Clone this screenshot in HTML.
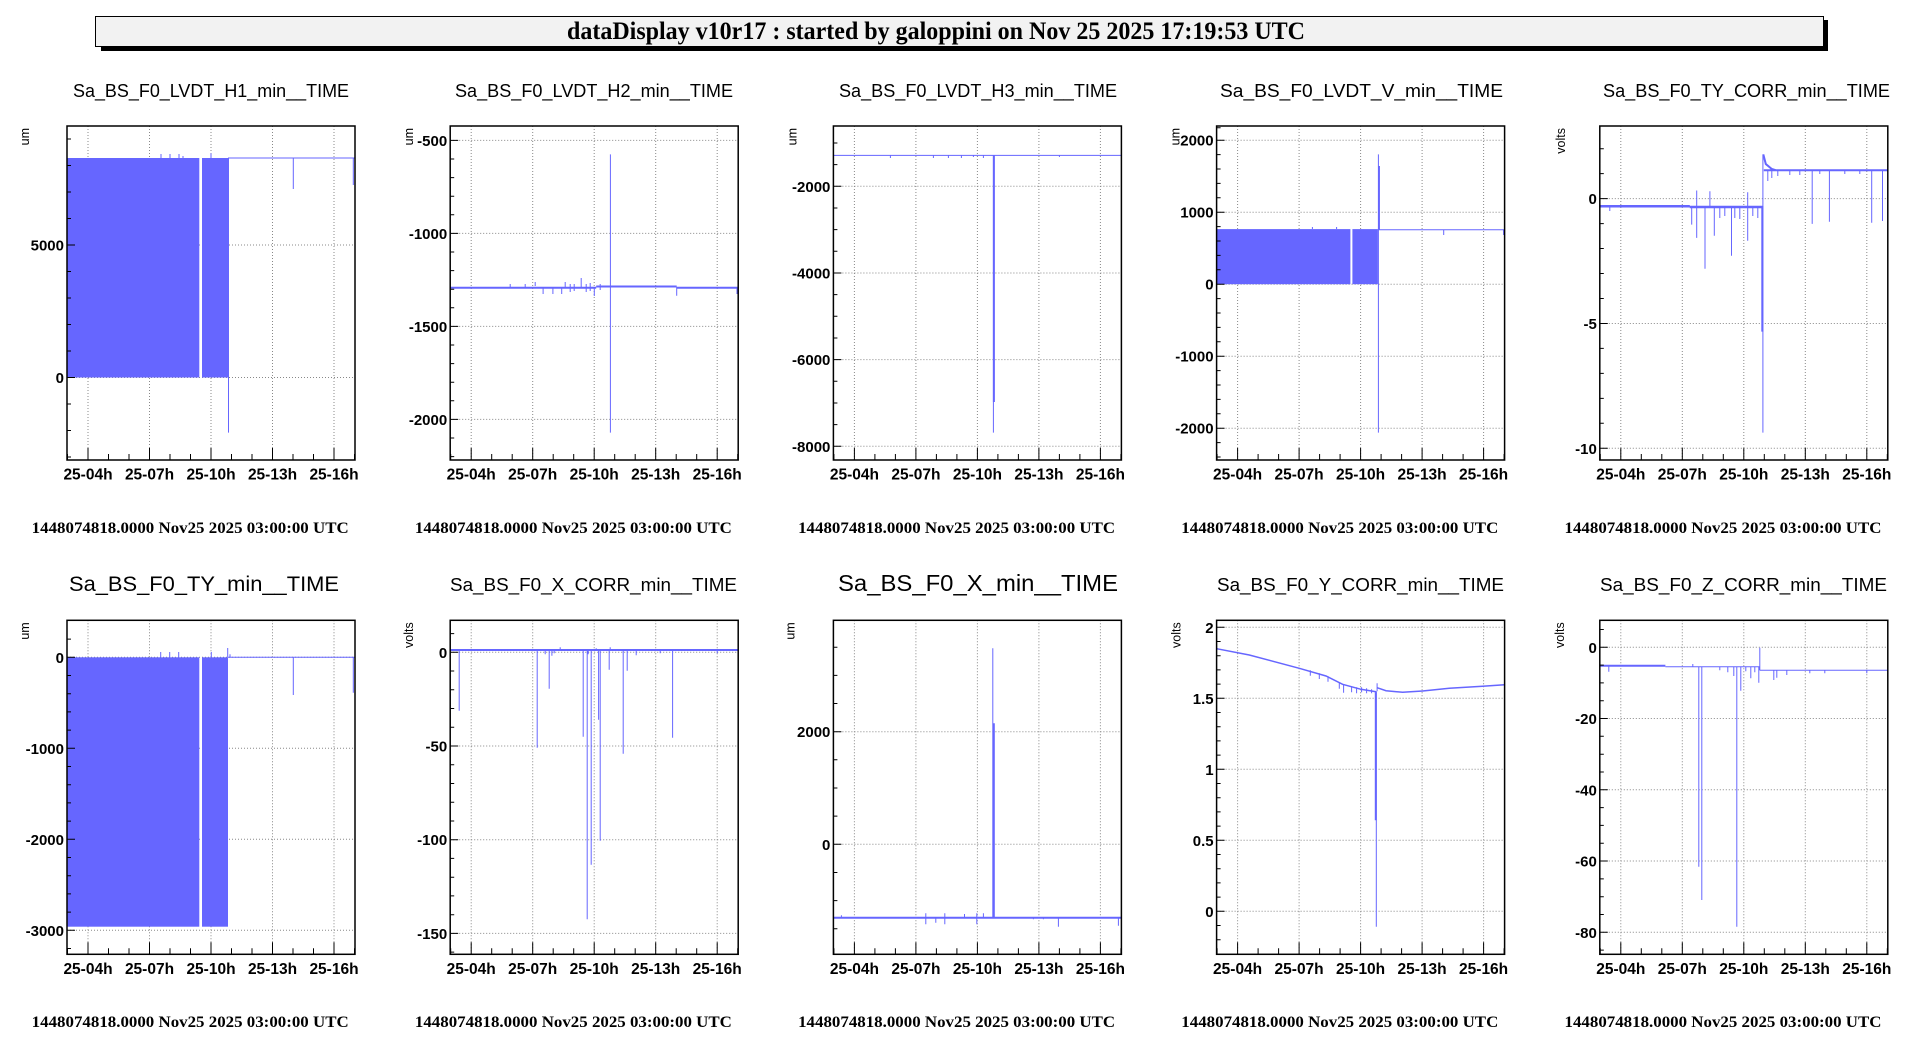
<!DOCTYPE html>
<html><head><meta charset="utf-8"><style>
html,body{margin:0;padding:0;background:#fff;}
svg{display:block;}
.t{font-family:"Liberation Sans",sans-serif;font-size:18px;fill:#000;}
.yl{font-family:"Liberation Sans",sans-serif;font-size:15px;font-weight:bold;text-anchor:end;}
.xl{font-family:"Liberation Sans",sans-serif;font-size:15.5px;font-weight:bold;text-anchor:middle;}
.ft{font-family:"Liberation Serif",serif;font-size:16px;font-weight:bold;}
.u{font-family:"Liberation Sans",sans-serif;font-size:12.5px;text-anchor:end;}
.g{stroke:#888;stroke-width:1;stroke-dasharray:1 2;fill:none;}
.tk{stroke:#000;stroke-width:1;fill:none;}
.d{stroke:#6666ff;stroke-width:1;fill:none;}
.f{fill:#6666ff;}
.fr{fill:none;stroke:#000;stroke-width:1.5;}
</style></head><body>
<svg width="1916" height="1052" viewBox="0 0 1916 1052" xmlns="http://www.w3.org/2000/svg">
<defs>
<g id="xa">
<path class="g" d="M21 0V334M82.5 0V334M144 0V334M205.5 0V334M267 0V334"/>
<path class="tk" d="M0.5 334v-6M21 334v-12M41.5 334v-6M62 334v-6M82.5 334v-12M103 334v-6M123.5 334v-6M144 334v-12M164.5 334v-6M185 334v-6M205.5 334v-12M226 334v-6M246.5 334v-6M267 334v-12M287.5 334v-6"/>
</g>
</defs>

<!-- header -->
<rect x="101" y="20" width="1727" height="31" fill="#000"/>
<rect x="95.5" y="16.5" width="1728" height="30" fill="#f2f2f2" stroke="#000" stroke-width="1"/>
<text x="567" y="39" font-family="Liberation Serif, serif" font-size="25" font-weight="bold" textLength="738" lengthAdjust="spacingAndGlyphs">dataDisplay v10r17 : started by galoppini on Nov 25 2025 17:19:53 UTC</text>

<!-- titles -->
<text class="t" x="73" y="97" textLength="276" lengthAdjust="spacingAndGlyphs">Sa_BS_F0_LVDT_H1_min__TIME</text>
<text class="t" x="455" y="97" textLength="278" lengthAdjust="spacingAndGlyphs">Sa_BS_F0_LVDT_H2_min__TIME</text>
<text class="t" x="839" y="97" textLength="278" lengthAdjust="spacingAndGlyphs">Sa_BS_F0_LVDT_H3_min__TIME</text>
<text class="t" x="1220" y="97" textLength="283" lengthAdjust="spacingAndGlyphs">Sa_BS_F0_LVDT_V_min__TIME</text>
<text class="t" x="1603" y="97" textLength="287" lengthAdjust="spacingAndGlyphs">Sa_BS_F0_TY_CORR_min__TIME</text>
<text class="t" x="69" y="591" style="font-size:21.5px" textLength="270" lengthAdjust="spacingAndGlyphs">Sa_BS_F0_TY_min__TIME</text>
<text class="t" x="450" y="591" textLength="287" lengthAdjust="spacingAndGlyphs">Sa_BS_F0_X_CORR_min__TIME</text>
<text class="t" x="838" y="591" style="font-size:23px" textLength="280" lengthAdjust="spacingAndGlyphs">Sa_BS_F0_X_min__TIME</text>
<text class="t" x="1217" y="591" textLength="287" lengthAdjust="spacingAndGlyphs">Sa_BS_F0_Y_CORR_min__TIME</text>
<text class="t" x="1600" y="591" textLength="287" lengthAdjust="spacingAndGlyphs">Sa_BS_F0_Z_CORR_min__TIME</text>

<!-- footers -->
<text class="ft" x="31.7" y="533" textLength="317" lengthAdjust="spacingAndGlyphs">1448074818.0000 Nov25 2025 03:00:00 UTC</text>
<text class="ft" x="414.9" y="533" textLength="317" lengthAdjust="spacingAndGlyphs">1448074818.0000 Nov25 2025 03:00:00 UTC</text>
<text class="ft" x="798.1" y="533" textLength="317" lengthAdjust="spacingAndGlyphs">1448074818.0000 Nov25 2025 03:00:00 UTC</text>
<text class="ft" x="1181.3" y="533" textLength="317" lengthAdjust="spacingAndGlyphs">1448074818.0000 Nov25 2025 03:00:00 UTC</text>
<text class="ft" x="1564.5" y="533" textLength="317" lengthAdjust="spacingAndGlyphs">1448074818.0000 Nov25 2025 03:00:00 UTC</text>
<text class="ft" x="31.7" y="1027" textLength="317" lengthAdjust="spacingAndGlyphs">1448074818.0000 Nov25 2025 03:00:00 UTC</text>
<text class="ft" x="414.9" y="1027" textLength="317" lengthAdjust="spacingAndGlyphs">1448074818.0000 Nov25 2025 03:00:00 UTC</text>
<text class="ft" x="798.1" y="1027" textLength="317" lengthAdjust="spacingAndGlyphs">1448074818.0000 Nov25 2025 03:00:00 UTC</text>
<text class="ft" x="1181.3" y="1027" textLength="317" lengthAdjust="spacingAndGlyphs">1448074818.0000 Nov25 2025 03:00:00 UTC</text>
<text class="ft" x="1564.5" y="1027" textLength="317" lengthAdjust="spacingAndGlyphs">1448074818.0000 Nov25 2025 03:00:00 UTC</text>

<!-- Panel 1 -->
<g transform="translate(67,126)">
<use href="#xa"/>
<path class="g" d="M0 251.5H288M0 119H288"/>
<rect class="f" x="0" y="32" width="132.3" height="219.5"/>
<rect class="f" x="135" y="32" width="26" height="219.5"/>
<path class="d" d="M161 32H288M161.5 32V306.6M226.3 32V63M286.3 32V59M94 32V28M103 32V28M112 32V28M116 32V30M144 32V27.3"/>
<path class="tk" d="M0 331h4M0 304.5h4M0 278h4M0 251.5h8M0 225h4M0 198.5h4M0 172h4M0 145.5h4M0 119h8M0 92.5h4M0 66h4M0 39.5h4M0 13h4"/>
<rect class="fr" x="0" y="0" width="288" height="334"/>
<text class="yl" x="-3" y="257">0</text><text class="yl" x="-3" y="124.5">5000</text>
<text class="xl" x="21" y="353.5">25-04h</text><text class="xl" x="82.5" y="353.5">25-07h</text><text class="xl" x="144" y="353.5">25-10h</text><text class="xl" x="205.5" y="353.5">25-13h</text><text class="xl" x="267" y="353.5">25-16h</text>
<text class="u" transform="translate(-38,2) rotate(-90)">um</text>
</g>

<!-- Panel 2 -->
<g transform="translate(450.2,126)">
<use href="#xa"/>
<path class="g" d="M0 14.4H288M0 107.4H288M0 200.4H288M0 293.4H288"/>
<path class="d" style="stroke-width:2" d="M0 161.7H146M146 160.5H226.5M226.5 161.7H288"/>
<path class="d" d="M160.2 28.4V306.6M131 161V152M226.5 161V169.8M286.8 161V168M92.9 161V168M102.7 161V168M111.5 161V168M144.1 161V170M115 161V156M120 158V166M124 158V165M136 158V166M140 157V165M150 158V164M60 161V158M75 161V158M85 160V156"/>
<path class="tk" d="M0 14.4h8M0 33h4M0 51.6h4M0 70.2h4M0 88.8h4M0 107.4h8M0 126h4M0 144.6h4M0 163.2h4M0 181.8h4M0 200.4h8M0 219h4M0 237.6h4M0 256.2h4M0 274.8h4M0 293.4h8M0 312h4M0 330.6h4"/>
<rect class="fr" x="0" y="0" width="288" height="334"/>
<text class="yl" x="-3" y="20">-500</text><text class="yl" x="-3" y="113">-1000</text><text class="yl" x="-3" y="206">-1500</text><text class="yl" x="-3" y="299">-2000</text>
<text class="xl" x="21" y="353.5">25-04h</text><text class="xl" x="82.5" y="353.5">25-07h</text><text class="xl" x="144" y="353.5">25-10h</text><text class="xl" x="205.5" y="353.5">25-13h</text><text class="xl" x="267" y="353.5">25-16h</text>
<text class="u" transform="translate(-37,2) rotate(-90)">um</text>
</g>

<!-- Panel 3 -->
<g transform="translate(833.4,126)">
<use href="#xa"/>
<path class="g" d="M0 60.3H288M0 147H288M0 233.6H288M0 320.3H288"/>
<path class="d" d="M0 29.4H288M160 29V306.6M57 29V32M100 29V32M115 29V32M128 29V32M140 29V31M150 29V32M226 29V31"/>
<path class="d" style="stroke-width:2" d="M160.5 29V276"/>
<path class="tk" d="M0 17h4M0 38.6h4M0 60.3h8M0 82h4M0 103.6h4M0 125.3h4M0 147h8M0 168.6h4M0 190.3h4M0 212h4M0 233.6h8M0 255.3h4M0 277h4M0 298.6h4M0 320.3h8"/>
<rect class="fr" x="0" y="0" width="288" height="334"/>
<text class="yl" x="-3" y="66">-2000</text><text class="yl" x="-3" y="152.5">-4000</text><text class="yl" x="-3" y="239">-6000</text><text class="yl" x="-3" y="326">-8000</text>
<text class="xl" x="21" y="353.5">25-04h</text><text class="xl" x="82.5" y="353.5">25-07h</text><text class="xl" x="144" y="353.5">25-10h</text><text class="xl" x="205.5" y="353.5">25-13h</text><text class="xl" x="267" y="353.5">25-16h</text>
<text class="u" transform="translate(-37,2) rotate(-90)">um</text>
</g>

<!-- Panel 4 -->
<g transform="translate(1216.6,126)">
<use href="#xa"/>
<path class="g" d="M0 14.2H288M0 86.2H288M0 158.2H288M0 230.2H288M0 302.2H288"/>
<rect class="f" x="0" y="103.1" width="133.8" height="55.1"/>
<rect class="f" x="135.8" y="103.1" width="25.5" height="55.1"/>
<path class="d" d="M161.3 103.8H288M161.8 28.4V306.6M227.1 104V109M287 104V109M95.8 103V101M120 103V101"/>
<path class="d" style="stroke-width:1.5" d="M162.6 40V104"/>
<path class="tk" d="M0 1.8h4M0 14.2h8M0 28.6h4M0 43h4M0 57.4h4M0 71.8h4M0 86.2h8M0 100.6h4M0 115h4M0 129.4h4M0 143.8h4M0 158.2h8M0 172.6h4M0 187h4M0 201.4h4M0 215.8h4M0 230.2h8M0 244.6h4M0 259h4M0 273.4h4M0 287.8h4M0 302.2h8M0 316.6h4M0 331h4"/>
<rect class="fr" x="0" y="0" width="288" height="334"/>
<text class="yl" x="-3" y="19.7">2000</text><text class="yl" x="-3" y="91.7">1000</text><text class="yl" x="-3" y="163.7">0</text><text class="yl" x="-3" y="235.7">-1000</text><text class="yl" x="-3" y="307.7">-2000</text>
<text class="xl" x="21" y="353.5">25-04h</text><text class="xl" x="82.5" y="353.5">25-07h</text><text class="xl" x="144" y="353.5">25-10h</text><text class="xl" x="205.5" y="353.5">25-13h</text><text class="xl" x="267" y="353.5">25-16h</text>
<text class="u" transform="translate(-37,2) rotate(-90)">um</text>
</g>

<!-- Panel 5 -->
<g transform="translate(1599.8,126)">
<use href="#xa"/>
<path class="g" d="M0 72.6H288M0 197.5H288M0 322.3H288"/>
<path class="d" style="stroke-width:2.5" d="M0 80.3H90M90 81H163"/>
<path class="d" style="stroke-width:2" d="M164 44.2H288M163.5 28.4L166 38L172 43L176 44.2"/>
<path class="d" d="M91.9 80V98.6M96.9 80V111.9M96.9 80V64.5M105.2 80V142.8M110.1 80V65.2M114.5 80V109.8M131.7 80V129.8M147.9 80V114.7M147.9 80V66.3M163.1 28.4V306.6M212.4 44V97.9M229.6 44V95.8M271.9 44V96.8M282.7 44V95M10 80V85M120 81V92M125 81V90M135 81V92M140 81V93M153 81V90M158 81V92M168 44V55M172 44V52M178 44V50M190 44V49M200 44V49M220 44V48M245 44V48M260 44V48"/>
<path class="d" style="stroke-width:2" d="M162.5 80V205.6"/>
<path class="tk" d="M0 22.7h4M0 47.6h4M0 72.6h8M0 97.6h4M0 122.5h4M0 147.5h4M0 172.5h4M0 197.5h8M0 222.4h4M0 247.4h4M0 272.4h4M0 297.3h4M0 322.3h8"/>
<rect class="fr" x="0" y="0" width="288" height="334"/>
<text class="yl" x="-3" y="78">0</text><text class="yl" x="-3" y="203">-5</text><text class="yl" x="-3" y="328">-10</text>
<text class="xl" x="21" y="353.5">25-04h</text><text class="xl" x="82.5" y="353.5">25-07h</text><text class="xl" x="144" y="353.5">25-10h</text><text class="xl" x="205.5" y="353.5">25-13h</text><text class="xl" x="267" y="353.5">25-16h</text>
<text class="u" transform="translate(-35,2) rotate(-90)">volts</text>
</g>

<!-- Panel 6 -->
<g transform="translate(67,620.3)">
<use href="#xa"/>
<path class="g" d="M0 37H288M0 128H288M0 219H288M0 310H288"/>
<rect class="f" x="0" y="37" width="132.3" height="269.4"/>
<rect class="f" x="135" y="37" width="26" height="269.4"/>
<path class="d" d="M161 37H288M93.7 37V31.7M102.7 37V31.7M111.7 37V31.7M144.3 37V31.7M160.7 37V27.7M226.3 37V74.7M286.3 37V72.4M163 37V34"/>
<path class="tk" d="M0 18.8h4M0 37h8M0 55.2h4M0 73.4h4M0 91.6h4M0 109.8h4M0 128h8M0 146.2h4M0 164.4h4M0 182.6h4M0 200.8h4M0 219h8M0 237.2h4M0 255.4h4M0 273.6h4M0 291.8h4M0 310h8M0 328.2h4"/>
<rect class="fr" x="0" y="0" width="288" height="334"/>
<text class="yl" x="-3" y="42.5">0</text><text class="yl" x="-3" y="133.5">-1000</text><text class="yl" x="-3" y="224.5">-2000</text><text class="yl" x="-3" y="315.5">-3000</text>
<text class="xl" x="21" y="353.5">25-04h</text><text class="xl" x="82.5" y="353.5">25-07h</text><text class="xl" x="144" y="353.5">25-10h</text><text class="xl" x="205.5" y="353.5">25-13h</text><text class="xl" x="267" y="353.5">25-16h</text>
<text class="u" transform="translate(-38,2) rotate(-90)">um</text>
</g>

<!-- Panel 7 -->
<g transform="translate(450.2,620.3)">
<use href="#xa"/>
<path class="g" d="M0 32H288M0 125.7H288M0 219.4H288M0 313.1H288"/>
<path class="d" style="stroke-width:2" d="M0 29.7H288"/>
<path class="d" d="M9 30V90.4M87 30V127.4M99 30V68.4M133 30V116.4M137 30V299M141 30V244.4M148.4 30V99.4M150 30V220.4M159 30V49.4M173 30V133.4M177 30V50.4M222.4 30V117.4M101.7 30V35.4M186 30V35M95 30V34M104 30V33M110 30V27M138 30V34M146 30V28M160 30V27M210 30V33M267 30V33"/>
<path class="tk" d="M0 13.3h4M0 32h8M0 50.7h4M0 69.5h4M0 88.2h4M0 107h4M0 125.7h8M0 144.4h4M0 163.2h4M0 181.9h4M0 200.7h4M0 219.4h8M0 238.1h4M0 256.9h4M0 275.6h4M0 294.4h4M0 313.1h8M0 331.8h4"/>
<rect class="fr" x="0" y="0" width="288" height="334"/>
<text class="yl" x="-3" y="37.5">0</text><text class="yl" x="-3" y="131.2">-50</text><text class="yl" x="-3" y="224.9">-100</text><text class="yl" x="-3" y="318.6">-150</text>
<text class="xl" x="21" y="353.5">25-04h</text><text class="xl" x="82.5" y="353.5">25-07h</text><text class="xl" x="144" y="353.5">25-10h</text><text class="xl" x="205.5" y="353.5">25-13h</text><text class="xl" x="267" y="353.5">25-16h</text>
<text class="u" transform="translate(-37,2) rotate(-90)">volts</text>
</g>

<!-- Panel 8 -->
<g transform="translate(833.4,620.3)">
<use href="#xa"/>
<path class="g" d="M0 111.4H288M0 224H288"/>
<path class="d" style="stroke-width:2" d="M0 297.4H288M160.4 297V103"/>
<path class="d" d="M159.4 297V28M92.4 293V304M102.4 297V302.4M111.4 293V304M131.1 297V293.7M143.4 293V304M225 297V306.4M285 297V305.4M8 297V295M150 297V293M200 297V299M210 297V299"/>
<path class="tk" d="M0 26.9h4M0 55.1h4M0 83.2h4M0 111.4h8M0 139.5h4M0 167.7h4M0 195.8h4M0 224h8M0 252.2h4M0 280.3h4M0 308.5h4"/>
<rect class="fr" x="0" y="0" width="288" height="334"/>
<text class="yl" x="-3" y="116.9">2000</text><text class="yl" x="-3" y="229.5">0</text>
<text class="xl" x="21" y="353.5">25-04h</text><text class="xl" x="82.5" y="353.5">25-07h</text><text class="xl" x="144" y="353.5">25-10h</text><text class="xl" x="205.5" y="353.5">25-13h</text><text class="xl" x="267" y="353.5">25-16h</text>
<text class="u" transform="translate(-39,2) rotate(-90)">um</text>
</g>

<!-- Panel 9 -->
<g transform="translate(1216.6,620.3)">
<use href="#xa"/>
<path class="g" d="M0 7H288M0 78H288M0 149H288M0 220H288M0 291H288"/>
<path class="d" style="stroke-width:1.5" d="M0 28.4L32.7 34.7L82.7 48L109.4 55.7L126 64L144.4 69L159.4 71.4M160.5 67.4L169.4 70.4L186 72L206 70.7L232.7 68L266 66L288 64.4"/>
<path class="d" d="M159.7 71V306.4M160.5 71V63M93.7 50V55.4M102.7 53V58.7M111.4 56V61.4M122.7 62V68.4M127 64V72.4M135 66V72M140 67V73M145 67V72M150 68V73M155 69V73"/>
<path class="d" style="stroke-width:2" d="M159.2 72V200"/>
<path class="tk" d="M0 7h8M0 21.2h4M0 35.4h4M0 49.6h4M0 63.8h4M0 78h8M0 92.2h4M0 106.4h4M0 120.6h4M0 134.8h4M0 149h8M0 163.2h4M0 177.4h4M0 191.6h4M0 205.8h4M0 220h8M0 234.2h4M0 248.4h4M0 262.6h4M0 276.8h4M0 291h8M0 305.2h4M0 319.4h4"/>
<rect class="fr" x="0" y="0" width="288" height="334"/>
<text class="yl" x="-3" y="12.5">2</text><text class="yl" x="-3" y="83.5">1.5</text><text class="yl" x="-3" y="154.5">1</text><text class="yl" x="-3" y="225.5">0.5</text><text class="yl" x="-3" y="296.5">0</text>
<text class="xl" x="21" y="353.5">25-04h</text><text class="xl" x="82.5" y="353.5">25-07h</text><text class="xl" x="144" y="353.5">25-10h</text><text class="xl" x="205.5" y="353.5">25-13h</text><text class="xl" x="267" y="353.5">25-16h</text>
<text class="u" transform="translate(-36,2) rotate(-90)">volts</text>
</g>

<!-- Panel 10 -->
<g transform="translate(1599.8,620.3)">
<use href="#xa"/>
<path class="g" d="M0 27H288M0 98.25H288M0 169.5H288M0 240.75H288M0 312H288"/>
<path class="d" style="stroke-width:2" d="M0 45.4H65.6"/>
<path class="d" d="M65.6 46.4H160M160 50H288M9 46V51.4M99 46V246.4M102 46V279.7M137 46V306.4M134 46V55.7M141 46V70.4M151 46V58M159 46V62.4M160 50V27.4M174 50V59.7M177 50V57.4M187 50V54.7M93 46V43.7M120 46V50M128 46V52M146 46V51M155 46V52M210 50V53M225 50V53M267 50V53"/>
<path class="tk" d="M0 9.2h4M0 27h8M0 44.8h4M0 62.6h4M0 80.4h4M0 98.25h8M0 116h4M0 133.9h4M0 151.7h4M0 169.5h8M0 187.3h4M0 205.1h4M0 222.9h4M0 240.75h8M0 258.6h4M0 276.4h4M0 294.2h4M0 312h8M0 329.8h4"/>
<rect class="fr" x="0" y="0" width="288" height="334"/>
<text class="yl" x="-3" y="32.5">0</text><text class="yl" x="-3" y="103.7">-20</text><text class="yl" x="-3" y="175">-40</text><text class="yl" x="-3" y="246.2">-60</text><text class="yl" x="-3" y="317.5">-80</text>
<text class="xl" x="21" y="353.5">25-04h</text><text class="xl" x="82.5" y="353.5">25-07h</text><text class="xl" x="144" y="353.5">25-10h</text><text class="xl" x="205.5" y="353.5">25-13h</text><text class="xl" x="267" y="353.5">25-16h</text>
<text class="u" transform="translate(-36,2) rotate(-90)">volts</text>
</g>
</svg>
</body></html>
